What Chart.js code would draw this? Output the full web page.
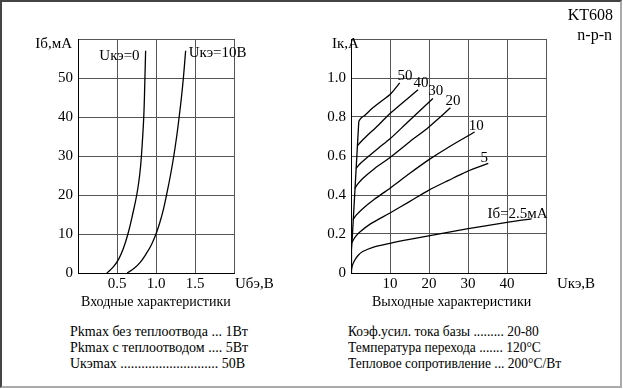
<!DOCTYPE html>
<html><head><meta charset="utf-8">
<script src="https://cdn.jsdelivr.net/npm/chart.js@4"></script>
<style>
html,body{margin:0;padding:0;background:#fff;}
#frame{position:absolute;left:0;top:0;width:618px;height:384px;border-left:2px solid #444;border-top:2px solid #444;border-right:2px solid #aaa;border-bottom:2px solid #aaa;}
.t{position:absolute;font-family:'Liberation Serif','Times New Roman',serif;font-size:14px;color:#000;white-space:pre;line-height:16px;}
canvas{position:absolute;top:0;}
</style></head><body>
<div id="frame"></div>
<canvas id="c1" width="300" height="300" style="left:0"></canvas>
<canvas id="c2" width="323" height="300" style="left:300px"></canvas>
<div class="t" style="right:551px;top:35px;font-size:15px;">Iб,мА</div>
<div class="t" style="left:332px;top:35px;font-size:15px;">Iк,А</div>
<div class="t" style="left:235px;top:275px;font-size:15px;">Uбэ,В</div>
<div class="t" style="left:557px;top:275px;font-size:15px;">Uкэ,В</div>
<div class="t" style="right:10px;top:7px;font-size:16px;">KT608</div>
<div class="t" style="right:11px;top:27px;font-size:16px;">n-p-n</div>
<div class="t" style="left:81px;top:294px;">Входные характеристики</div>
<div class="t" style="left:372px;top:294px;">Выходные характеристики</div>
<div class="t" style="left:70px;top:324px;">Pkmax без теплоотвода ... 1Вт
Pkmax с теплоотводом .... 5Вт
Uкэmax ............................ 50В</div>
<div class="t" style="left:348px;top:324px;transform:scaleX(0.965);transform-origin:0 0;">Коэф.усил. тока базы ......... 20-80
Температура перехода ....... 120°C
Тепловое сопротивление ... 200°C/Вт</div>
<script>
// Input characteristics: Iб (mA) vs Uбэ (V)
const inUke0X  = [0.37, 0.45, 0.52, 0.58, 0.64, 0.70, 0.753, 0.79, 0.813, 0.843, 0.858, 0.867];
const inUke0Y  = [0, 1.5, 3.5, 6.2, 10, 15, 20, 25, 30, 40, 50, 57];
const inUke10X = [0.63, 0.72, 0.80, 0.87, 0.94, 1.0, 1.05, 1.095, 1.135, 1.185, 1.228, 1.265, 1.297, 1.326, 1.351, 1.38];
const inUke10Y = [0, 1.2, 2.8, 4.8, 7.2, 10, 13, 16.3, 20, 25, 30, 35, 40, 45, 50, 57];
const inXTicks = [0.5, 1.0, 1.5];
const inYTicks = [0, 10, 20, 30, 40, 50];

// Output characteristics: Iк (A) vs Uкэ (V)
const envX   = [0, 0.12, 0.26, 2.0];          // common steep (saturation) line
const envY   = [0, 0.12, 0.157, 0.778];
const ib50X  = [2.0, 2.6, 3.5, 5.6, 8.0, 10, 12.5];
const ib50Y  = [0.778, 0.795, 0.808, 0.847, 0.885, 0.915, 0.975];
const ib40X  = [1.62, 2.5, 3.9, 7, 10, 17.2];
const ib40Y  = [0.652, 0.672, 0.70, 0.758, 0.818, 0.94];
const ib30X  = [1.28, 2.2, 3.9, 7, 10, 14.3, 21.0];
const ib30Y  = [0.536, 0.558, 0.588, 0.640, 0.688, 0.769, 0.895];
const ib20X  = [0.97, 1.8, 3.0, 6, 10, 15, 19.9, 25.5];
const ib20Y  = [0.433, 0.458, 0.485, 0.535, 0.592, 0.672, 0.748, 0.847];
const ib10X  = [0.5, 1.4, 3.0, 6, 10, 15, 19.9, 25, 31.7];
const ib10Y  = [0.273, 0.298, 0.33, 0.378, 0.435, 0.51, 0.58, 0.645, 0.723];
const ib5X   = [0.26, 1.0, 2.2, 5, 10, 15, 19.9, 25, 29.7, 35.2];
const ib5Y   = [0.157, 0.183, 0.209, 0.252, 0.308, 0.366, 0.424, 0.475, 0.52, 0.562];
const ib25X  = [0, 0.3, 0.87, 1.8, 3.0, 5.6, 10, 15, 19.9, 29.7, 40, 46.3];
const ib25Y  = [0, 0.035, 0.063, 0.09, 0.11, 0.132, 0.152, 0.172, 0.19, 0.226, 0.26, 0.278];
const outXTicks = [10, 20, 30, 40];
const outYTicks = [0, 0.2, 0.4, 0.6, 0.8, 1.0];

const inLabels  = [
  {text:'Uкэ=0',  x:0.79, y:55.5, align:'right'},
  {text:'Uкэ=10В', x:1.42, y:56.5, align:'left'}
];
const outLabels = [
  {text:'50', x:11.9, y:1.01},
  {text:'40', x:16.0, y:0.975},
  {text:'30', x:19.8, y:0.935},
  {text:'20', x:24.2, y:0.884},
  {text:'10', x:30.2, y:0.755},
  {text:'5',  x:33.2, y:0.59},
  {text:'Iб=2.5мА', x:35.0, y:0.30}
];

const FONT = "'Liberation Serif'";
const pts = (xs, ys) => xs.map((x, i) => ({x, y: ys[i]}));
const line = (xs, ys, t) => ({data: pts(xs, ys), borderColor:'#000', borderWidth:1.3, pointRadius:0, fill:false, tension:t});

const labelPlugin = {
  id:'curveLabels',
  afterDatasetsDraw(chart, args, opts){
    const ctx = chart.ctx, xs = chart.scales.x, ys = chart.scales.y;
    ctx.save();
    ctx.fillStyle = '#000';
    ctx.font = '15px ' + FONT;
    ctx.textBaseline = 'middle';
    (opts.items || []).forEach(l => {
      ctx.textAlign = l.align || 'left';
      ctx.fillText(l.text, xs.getPixelForValue(l.x), ys.getPixelForValue(l.y));
    });
    ctx.restore();
  }
};

function makeChart(id, datasets, xr, yr, xTicks, yTicks, yFmt, yW, padR, labels){
  return new Chart(document.getElementById(id), {
    type:'line',
    data:{datasets},
    plugins:[labelPlugin],
    options:{
      responsive:false, animation:false, devicePixelRatio:1,
      layout:{padding:{top:39, right:padR, left:0, bottom:0}},
      plugins:{legend:{display:false}, tooltip:{enabled:false}, curveLabels:{items:labels}},
      scales:{
        x:{type:'linear', min:xr[0], max:xr[1],
           afterBuildTicks: s => { s.ticks = [xr[0]].concat(xTicks, [xr[1]]).map(v => ({value:v})); },
           ticks:{callback: v => xTicks.includes(v) ? (xr[1] <= 2 ? v.toFixed(1) : String(v)) : '', color:'#000', font:{family:FONT, size:15}, padding:2, maxRotation:0, autoSkip:false},
           grid:{color:'#555', lineWidth:1, drawTicks:false},
           border:{color:'#000', width:1},
           afterFit: s => { s.height = 27; }},
        y:{type:'linear', min:yr[0], max:yr[1],
           afterBuildTicks: s => { s.ticks = yTicks.concat([yr[1]]).map(v => ({value:v})); },
           ticks:{callback: v => yTicks.includes(v) ? yFmt(v) : '', color:'#000', font:{family:FONT, size:15}, padding:5, autoSkip:false},
           grid:{color:'#555', lineWidth:1, drawTicks:false},
           border:{color:'#000', width:1},
           afterFit: s => { s.width = yW; }}
      }
    }
  });
}

makeChart('c1', [line(inUke0X, inUke0Y, 0.4), line(inUke10X, inUke10Y, 0.4)],
  [0, 2], [0, 60], inXTicks, inYTicks, v => String(v), 78, 66, inLabels);

makeChart('c2', [line(envX, envY, 0), line(ib50X, ib50Y, 0.3), line(ib40X, ib40Y, 0.3), line(ib30X, ib30Y, 0.3),
                 line(ib20X, ib20Y, 0.3), line(ib10X, ib10Y, 0.3), line(ib5X, ib5Y, 0.3), line(ib25X, ib25Y, 0.3)],
  [0, 50], [0, 1.2], outXTicks, outYTicks, v => v === 0 ? '0' : v.toFixed(1), 51, 77, outLabels);
</script>
</body></html>
